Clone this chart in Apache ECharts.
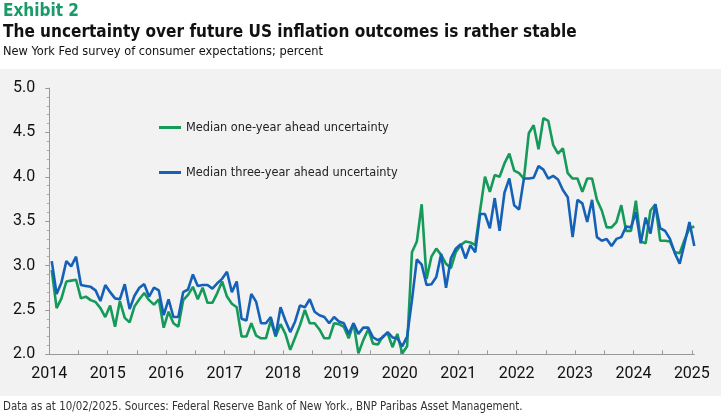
<!DOCTYPE html>
<html>
  <head>
    <meta charset="UTF-8">
    <title>Exhibit 2</title>
    <script src="https://cdn.jsdelivr.net/npm/echarts@6/dist/echarts.min.js"></script>
    <style>
      html, body { margin: 0; padding: 0; background: #fff; }
    </style>
  </head>
  <body>
    <div id="myChart" style="width: 725px;height:416px;"></div>
    <script type="text/javascript">
    // monthly survey values, Jan 2014 .. Jan 2025
    var startYear = 2014;
    var yearLabels = [2014, 2015, 2016, 2017, 2018, 2019, 2020, 2021, 2022, 2023, 2024, 2025];
    var yLabels = [2.0, 2.5, 3.0, 3.5, 4.0, 4.5, 5.0];
    var seriesNames = ['Median one-year ahead uncertainty', 'Median three-year ahead uncertainty'];

    var oneYear = [
      2.95, 2.52, 2.63, 2.82, 2.83, 2.84, 2.63, 2.65, 2.61, 2.59, 2.52, 2.42,
      2.55, 2.31, 2.60, 2.41, 2.36, 2.54, 2.62, 2.69, 2.61, 2.56, 2.62, 2.30,
      2.48, 2.35, 2.31, 2.61, 2.67, 2.76, 2.62, 2.75, 2.58, 2.58, 2.69, 2.82,
      2.65, 2.57, 2.53, 2.20, 2.20, 2.35, 2.21, 2.18, 2.18, 2.38, 2.20, 2.34,
      2.23, 2.05, 2.19, 2.33, 2.50, 2.35, 2.35, 2.28, 2.18, 2.18, 2.35, 2.34,
      2.31, 2.18, 2.35, 2.01, 2.16, 2.28, 2.12, 2.11, 2.20, 2.24, 2.08, 2.23,
      2.01, 2.09, 3.15, 3.27, 3.69, 2.85, 3.10, 3.19, 3.12, 3.02, 2.97, 3.15,
      3.23, 3.27, 3.26, 3.23, 3.62, 4.00, 3.83, 4.02, 4.00, 4.15, 4.26, 4.07,
      4.04, 3.98, 4.49, 4.58, 4.31, 4.66, 4.63, 4.36, 4.26, 4.32, 4.04, 3.98,
      3.98, 3.83, 3.98, 3.98, 3.74, 3.62, 3.43, 3.43, 3.49, 3.68, 3.39, 3.39,
      3.73, 3.27, 3.25, 3.62, 3.69, 3.28, 3.28, 3.27, 3.15, 3.14, 3.29, 3.42,
      3.44
    ];
    var threeYear = [
      3.05, 2.68, 2.81, 3.05, 2.99, 3.10, 2.78, 2.77, 2.76, 2.72, 2.60, 2.78,
      2.70, 2.63, 2.62, 2.79, 2.51, 2.66, 2.75, 2.79, 2.65, 2.75, 2.72, 2.44,
      2.62, 2.42, 2.42, 2.70, 2.73, 2.90, 2.77, 2.78, 2.78, 2.74, 2.80, 2.85,
      2.93, 2.70, 2.82, 2.40, 2.38, 2.68, 2.59, 2.35, 2.35, 2.42, 2.21, 2.53,
      2.38, 2.25, 2.37, 2.55, 2.53, 2.62, 2.48, 2.44, 2.42, 2.35, 2.42, 2.37,
      2.35, 2.23, 2.35, 2.23, 2.30, 2.30, 2.19, 2.16, 2.19, 2.25, 2.19, 2.18,
      2.09, 2.20, 2.61, 3.07, 3.01, 2.78, 2.79, 2.87, 3.13, 2.75, 3.08, 3.19,
      3.24, 3.08, 3.23, 3.15, 3.58, 3.58, 3.42, 3.76, 3.39, 3.82, 3.98, 3.68,
      3.63, 3.98, 3.98, 3.99, 4.12, 4.08, 3.98, 4.01, 3.97, 3.85, 3.77, 3.32,
      3.74, 3.70, 3.49, 3.74, 3.32, 3.28, 3.30, 3.22, 3.30, 3.32, 3.44, 3.43,
      3.60, 3.25, 3.54, 3.36, 3.69, 3.42, 3.39, 3.30, 3.14, 3.02, 3.25, 3.49,
      3.22
    ];

    var GREEN = '#159a5a', BLUE = '#1561b8';
    var FAMILY = "'Liberation Sans Narrow', 'DejaVu Sans Condensed', Roboto, sans-serif";

    // pick a font size so the text takes the same width as in the exhibit
    function fit(text, weight, width) {
      var ctx = document.createElement('canvas').getContext('2d');
      ctx.font = weight + ' 100px ' + FAMILY;
      return 100 * width / ctx.measureText(text).width;
    }

    // points sit in the middle of each month
    function toXY(values) {
      return values.map(function (v, i) {
        return [startYear + (i + 0.5) / 12, v];
      });
    }

    var halfYears = [];
    yearLabels.forEach(function (y, i) {
      halfYears.push(y);
      if (i < yearLabels.length - 1) halfYears.push(y + 0.5);
    });

    var texts = {
      exhibit: 'Exhibit 2',
      title: 'The uncertainty over future US inflation outcomes is rather stable',
      sub: 'New York Fed survey of consumer expectations; percent',
      foot: 'Data as at 10/02/2025. Sources: Federal Reserve Bank of New York., BNP Paribas Asset Management.'
    };

    function label(text, weight, width, y, color) {
      var size = fit(text, weight, width);
      return {
        type: 'text', x: 3, y: y, silent: true,
        style: {
          text: text, fill: color, verticalAlign: 'middle',
          font: weight + ' ' + size.toFixed(2) + 'px ' + FAMILY
        }
      };
    }

    var legendSize = fit(seriesNames[0], 'normal', 203);

    var myChart = echarts.init(document.getElementById('myChart'));
    var option = {
      animation: false,
      backgroundColor: '#fff',
      graphic: [
        { type: 'rect', z: -10, silent: true, shape: { x: 0, y: 69, width: 721, height: 327 }, style: { fill: '#f2f2f2' } },
        label(texts.exhibit, 'bold', 76, 12, '#1a9a68'),
        label(texts.title, 'bold', 574, 33, '#111'),
        label(texts.sub, 'normal', 320, 52, '#111'),
        label(texts.foot, 'normal', 520, 407, '#333')
      ],
      legend: [{
        data: [seriesNames[0]], left: 154, top: 116,
        itemWidth: 22, itemHeight: 3, icon: 'rect', itemGap: 0,
        textStyle: { fontFamily: FAMILY, fontSize: legendSize, color: '#222' }
      }, {
        data: [seriesNames[1]], left: 154, top: 161,
        itemWidth: 22, itemHeight: 3, icon: 'rect', itemGap: 0,
        textStyle: { fontFamily: FAMILY, fontSize: legendSize, color: '#222' }
      }],
      grid: { left: 49.3, right: 30.7, top: 88, bottom: 61.7 },
      xAxis: {
        type: 'value',
        min: startYear,
        max: yearLabels[yearLabels.length - 1] + 1 / 24,
        splitLine: { show: false },
        axisLine: { lineStyle: { color: '#999', width: 1 } },
        axisTick: { show: true, inside: true, length: 4, customValues: halfYears, lineStyle: { color: '#999' } },
        axisLabel: {
          customValues: yearLabels, margin: 12, color: '#111', fontSize: 16, fontFamily: 'Roboto',
          formatter: function (v) { return String(v); }
        }
      },
      yAxis: {
        type: 'value',
        min: yLabels[0],
        max: yLabels[yLabels.length - 1],
        interval: 0.5,
        splitLine: { show: false },
        axisLine: { show: true, lineStyle: { color: '#999', width: 1 } },
        axisTick: { show: true, length: 4, lineStyle: { color: '#999' } },
        minorTick: { show: true, splitNumber: 5, length: 2.5, lineStyle: { color: '#aaa' } },
        axisLabel: {
          margin: 14, color: '#111', fontSize: 16, fontFamily: 'Roboto',
          formatter: function (v) { return v.toFixed(1); }
        }
      },
      series: [{
        name: seriesNames[0],
        type: 'line',
        data: toXY(oneYear),
        showSymbol: false,
        color: GREEN,
        lineStyle: { width: 2.6, color: GREEN },
        z: 3
      }, {
        name: seriesNames[1],
        type: 'line',
        data: toXY(threeYear),
        showSymbol: false,
        color: BLUE,
        lineStyle: { width: 2.6, color: BLUE },
        z: 4
      }]
    };
    myChart.setOption(option);
    </script>
  </body>
</html>
